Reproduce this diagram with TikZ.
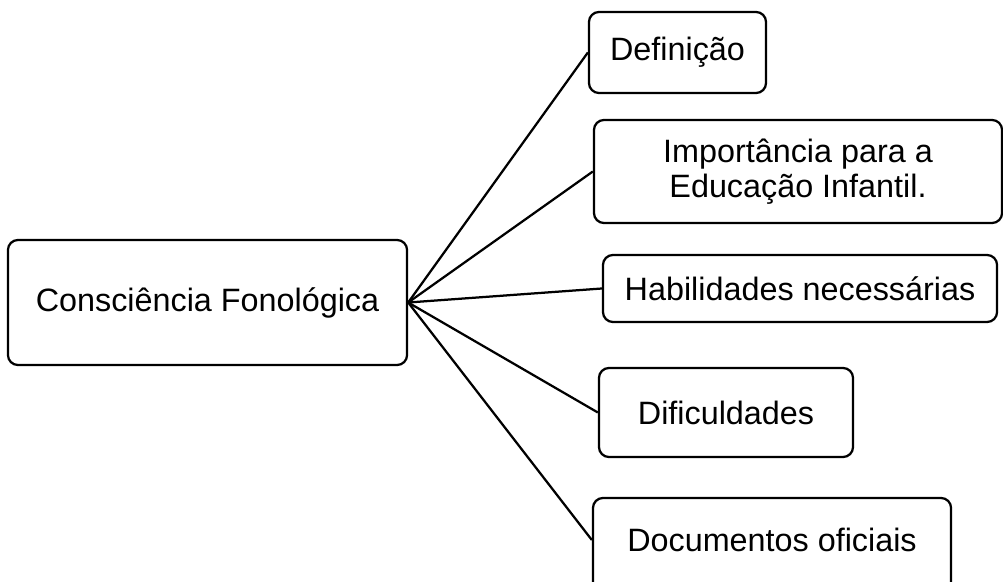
\documentclass[tikz,border=0pt]{standalone}
\usepackage{fontspec}
\setmainfont{Liberation Sans}
\usepackage{tikz}

\begin{document}
\begin{tikzpicture}[
    x=0.025cm, y=-0.025cm,
    box/.style={rectangle, draw, rounded corners=0.25cm, line width=1.6pt, align=center, font=\fontsize{23}{24.5}\selectfont, inner sep=0pt},
    link/.style={draw, line width=1.6pt}
]
    \useasboundingbox (0,0) rectangle (1003,582);

    \node[box, minimum width=9.975cm, minimum height=3.125cm] (consc) at (207.5,302.5) {Consciência Fonológica};
    \node[box, minimum width=4.425cm, minimum height=2.025cm] (defin) at (677.5,52.5) {Definição};
    \node[box, minimum width=10.2cm, minimum height=2.575cm] (import) at (798,171.5) {Importância para a\\Educação Infantil.};
    \node[box, minimum width=9.85cm, minimum height=1.675cm] (habil) at (800,288.5) {Habilidades necessárias};
    \node[box, minimum width=6.35cm, minimum height=2.225cm] (dific) at (726,412.5) {Dificuldades};
    \node[box, minimum width=8.95cm, minimum height=2.4cm, text depth=0pt] (docs) at (772,546) {};
    \node[font=\fontsize{23}{24.5}\selectfont, inner sep=0pt] (docstext) at (772,540) {Documentos oficiais};

    \draw[link] (consc.east) -- (defin.west);
    \draw[link] (consc.east) -- (import.west);
    \draw[link] (consc.east) -- (habil.west);
    \draw[link] (consc.east) -- (dific.west);
    \draw[link] (consc.east) -- (docstext.west -| docs.west);
\end{tikzpicture}
\end{document}
